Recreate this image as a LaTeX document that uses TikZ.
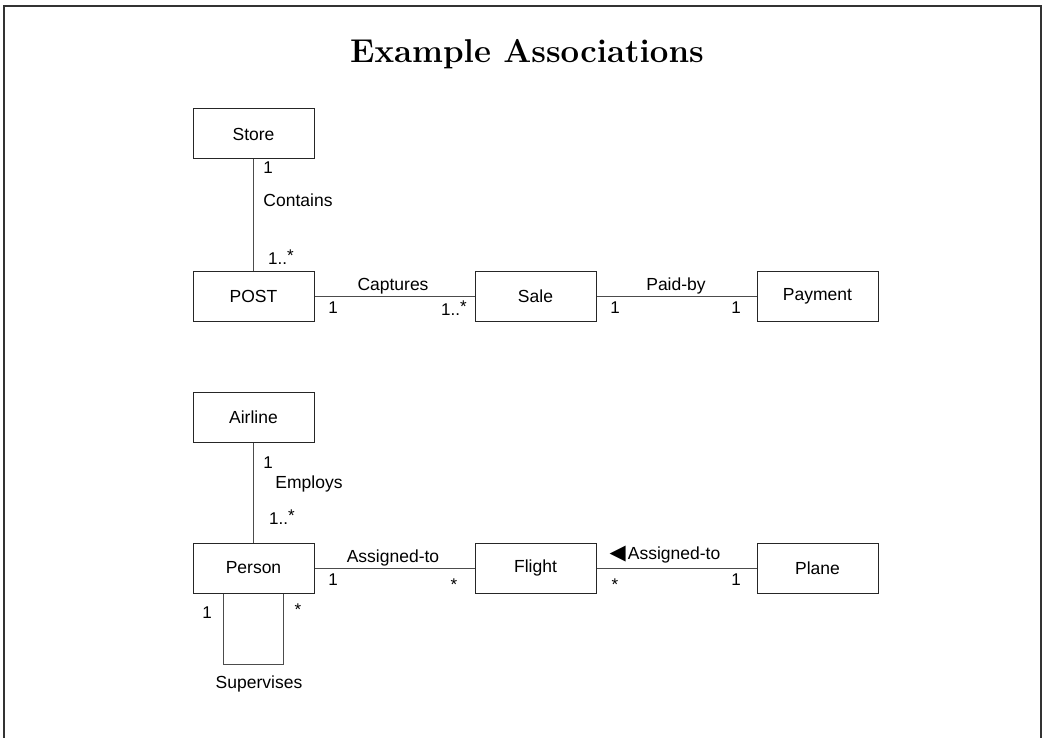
\documentclass[tikz,border=0pt]{standalone}
\usepackage{fontspec}
\setsansfont{Liberation Sans}
\newfontfamily\symfont{DejaVu Sans}
\begin{document}
\begin{tikzpicture}[x=1pt,y=-1pt,
  cls/.style={draw=black!85, line width=1pt, minimum width=121pt, minimum height=50pt,
    inner sep=0pt, font=\sffamily\fontsize{17.5}{20}\selectfont},
  assoc/.style={draw=black!70, line width=1pt},
  lbl/.style={font=\sffamily\fontsize{17.5}{20}\selectfont, inner sep=0pt},
  mult/.style={font=\sffamily\fontsize{17}{20}\selectfont, inner sep=0pt},
  frame/.style={draw=black!80, line width=2pt}]
\useasboundingbox (0,0) rectangle (1044,738);

% outer frame, open at the bottom
\draw[frame] (4,740) -- (4,6) -- (1041,6) -- (1041,740);

% title
\node[font=\fontsize{33}{38}\selectfont\bfseries] (title) at (527,54) {Example Associations};

% classes of the point-of-sale example
\node[cls] (store)   at (253.5,134) {Store};
\node[cls] (post)    at (253.5,296) {POST};
\node[cls] (sale)    at (535.5,296) {Sale};
\node[cls] (payment) at (817.5,296) {Payment};

% classes of the airline example
\node[cls] (airline) at (253.5,417.5) {Airline};
\node[cls] (person)  at (253.5,568) {Person};
\node[cls] (flight)  at (535.5,568) {Flight};
\node[cls] (plane)   at (817.5,568) {Plane};

% associations
\draw[assoc] (store.south) -- (post.north);
\draw[assoc] (post.east) -- (sale.west);
\draw[assoc] (sale.east) -- (payment.west);
\draw[assoc] (airline.south) -- (person.north);
\draw[assoc] (person.east) -- (flight.west);
\draw[assoc] (flight.east) -- (plane.west);
\draw[assoc] ([xshift=-30pt]person.south) -- ++(0,71) -| ([xshift=30pt]person.south);

% Contains
\node[mult] (m1) at (268,168) {1};
\node[lbl]  (l1) at (298,200) {Contains};
\node[mult] (m2) at (281,257) {1..\raisebox{3pt}{*}};

% Captures
\node[lbl]  (l2) at (393,286) {Captures};
\node[mult] (m3) at (333,308) {1};
\node[mult] (m4) at (454,308) {1..\raisebox{3pt}{*}};

% Paid-by
\node[lbl]  (l3) at (676,286) {Paid-by};
\node[mult] (m5) at (615,308) {1};
\node[mult] (m6) at (736,308) {1};

% Employs
\node[mult] (m7) at (268,463) {1};
\node[lbl]  (l4) at (309,484) {Employs};
\node[mult] (m8) at (282,517) {1..\raisebox{3pt}{*}};

% Person -- Flight
\node[lbl]  (l5) at (393,558) {Assigned-to};
\node[mult] (m9) at (333,580) {1};
\node[mult] (m10) at (454,585) {*};

% Flight -- Plane, with reading-direction triangle
\node[lbl]  (l6) at (665,555) {{\symfont\fontsize{21}{22}\selectfont ◀}\kern2pt Assigned-to};
\node[mult] (m11) at (615,585) {*};
\node[mult] (m12) at (736,580) {1};

% Supervises
\node[mult] (m13) at (207,613) {1};
\node[mult] (m14) at (298,610) {*};
\node[lbl]  (l7) at (259,684) {Supervises};
\end{tikzpicture}
\end{document}
